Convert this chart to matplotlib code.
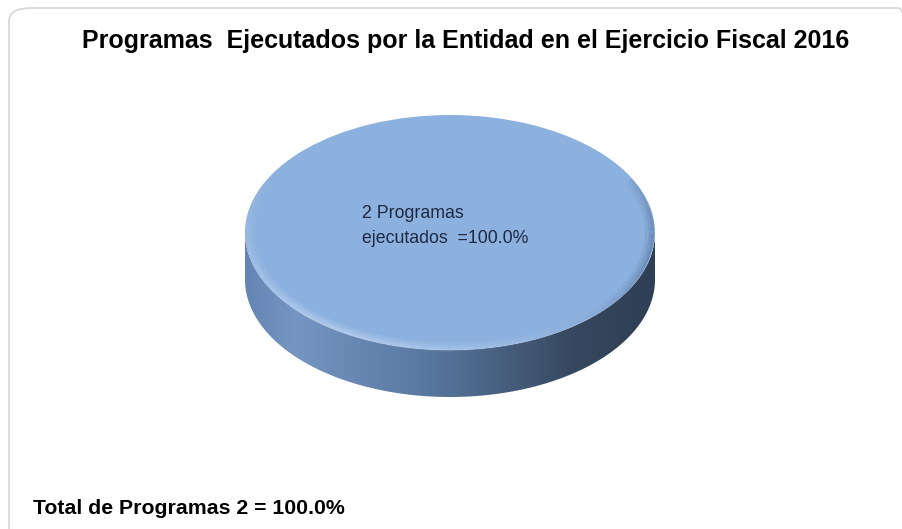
import numpy as np
import matplotlib
matplotlib.use("Agg")
import matplotlib.pyplot as plt
from matplotlib.path import Path
from matplotlib.patches import PathPatch, FancyBboxPatch
from matplotlib.colors import LinearSegmentedColormap, to_rgba
from matplotlib.collections import LineCollection

# Data
label_lines = ["2 Programas", "ejecutados  =100.0%"]
values = [2]
title = "Programas  Ejecutados por la Entidad en el Ejercicio Fiscal 2016"
footer = "Total de Programas 2 = 100.0%"

top_color = "#8db1de"
side_cmap = LinearSegmentedColormap.from_list(
    "side", [(0.0, "#6485b3"), (0.12, "#7595c3"), (0.45, "#58779f"),
             (0.8, "#36485f"), (1.0, "#2f3f55")])

W, H = 902, 529
fig = plt.figure(figsize=(W / 100, H / 100), dpi=100)
fig.patch.set_facecolor("white")

# light rounded frame
frame = FancyBboxPatch((9 / W, -0.05), (W + 10) / W, 1.05 - 8 / H,
                       boxstyle="round,pad=0,rounding_size=0.025",
                       transform=fig.transFigure, facecolor="none",
                       edgecolor="#d6d6d6", linewidth=1.2, zorder=-1)
fig.patches.append(frame)

# pie geometry (pixels)
cx, cy, rx, ry, depth = 450, 232.5, 205, 117.5, 0.40
ylo, yhi = -1.1 - depth, 1.1
ax = fig.add_axes([(cx - 1.1 * rx) / W, 1 - (cy - ylo * ry) / H,
                   2.2 * rx / W, (yhi - ylo) * ry / H])
ax.set_facecolor("none")

wedges, texts = ax.pie(values, colors=[top_color], startangle=90,
                       counterclock=False, radius=1,
                       wedgeprops=dict(linewidth=0, zorder=3))
ax.set_aspect("auto")
ax.axis("off")

# side band from the pie wedges
for w in wedges:
    t1, t2 = np.radians(w.theta1), np.radians(w.theta2)
    if t2 - t1 >= 2 * np.pi - 1e-6:
        t = np.linspace(np.pi, 2 * np.pi, 200)
    else:
        t = np.linspace(max(t1, np.pi), min(t2, 2 * np.pi), 200)
    upper = np.column_stack([np.cos(t), np.sin(t)])
    lower = np.column_stack([np.cos(t[::-1]), np.sin(t[::-1]) - depth])
    verts = np.vstack([upper, lower, upper[:1]])
    clip = PathPatch(Path(verts, closed=True), facecolor="none",
                     edgecolor="none", transform=ax.transData)
    ax.add_patch(clip)
    grad = np.linspace(0, 1, 256).reshape(1, -1)
    im = ax.imshow(grad, cmap=side_cmap, extent=[-1, 1, -1 - depth, 0],
                   aspect="auto", zorder=2, interpolation="bicubic")
    im.set_clip_path(clip)

# soft bevel on the top face: light on the lower left, darker on the right
tt = np.linspace(0.85 * np.pi, 2.15 * np.pi, 300)
light = np.exp(-((tt - 1.3 * np.pi) / (0.3 * np.pi)) ** 2)
shade = np.exp(-((tt - 1.97 * np.pi) / (0.15 * np.pi)) ** 2)
for r, lw, k in [(0.972, 6, 0.2), (0.982, 4, 0.3), (0.99, 2, 0.4)]:
    pts = np.column_stack([np.cos(tt) * r, np.sin(tt) * r]).reshape(-1, 1, 2)
    segs = np.concatenate([pts[:-1], pts[1:]], axis=1)
    cl = np.array([to_rgba("#bcd4f2", a * k) for a in light[:-1]])
    cs = np.array([to_rgba("#5b7aa5", a * k) for a in shade[:-1]])
    ax.add_collection(LineCollection(segs, colors=cl, linewidths=lw, zorder=4))
    ax.add_collection(LineCollection(segs, colors=cs, linewidths=lw, zorder=4))

ax.set_xlim(-1.1, 1.1)
ax.set_ylim(ylo, yhi)

# labels
sans = ["Liberation Sans", "DejaVu Sans"]
fig.text(466 / W, 1 - 41 / H, title, ha="center", va="center",
         fontsize=18, fontweight="bold", family=sans, color="black")
for line, y in zip(label_lines, [218, 243]):
    fig.text(362 / W, 1 - y / H, line, ha="left", va="baseline",
             fontsize=12.8, family=sans, color="#1d2942")
fig.text(33 / W, 1 - 509 / H, footer, ha="left", va="center",
         fontsize=15.3, fontweight="bold", family=sans, color="black")

fig.savefig("out.png", dpi=100)
